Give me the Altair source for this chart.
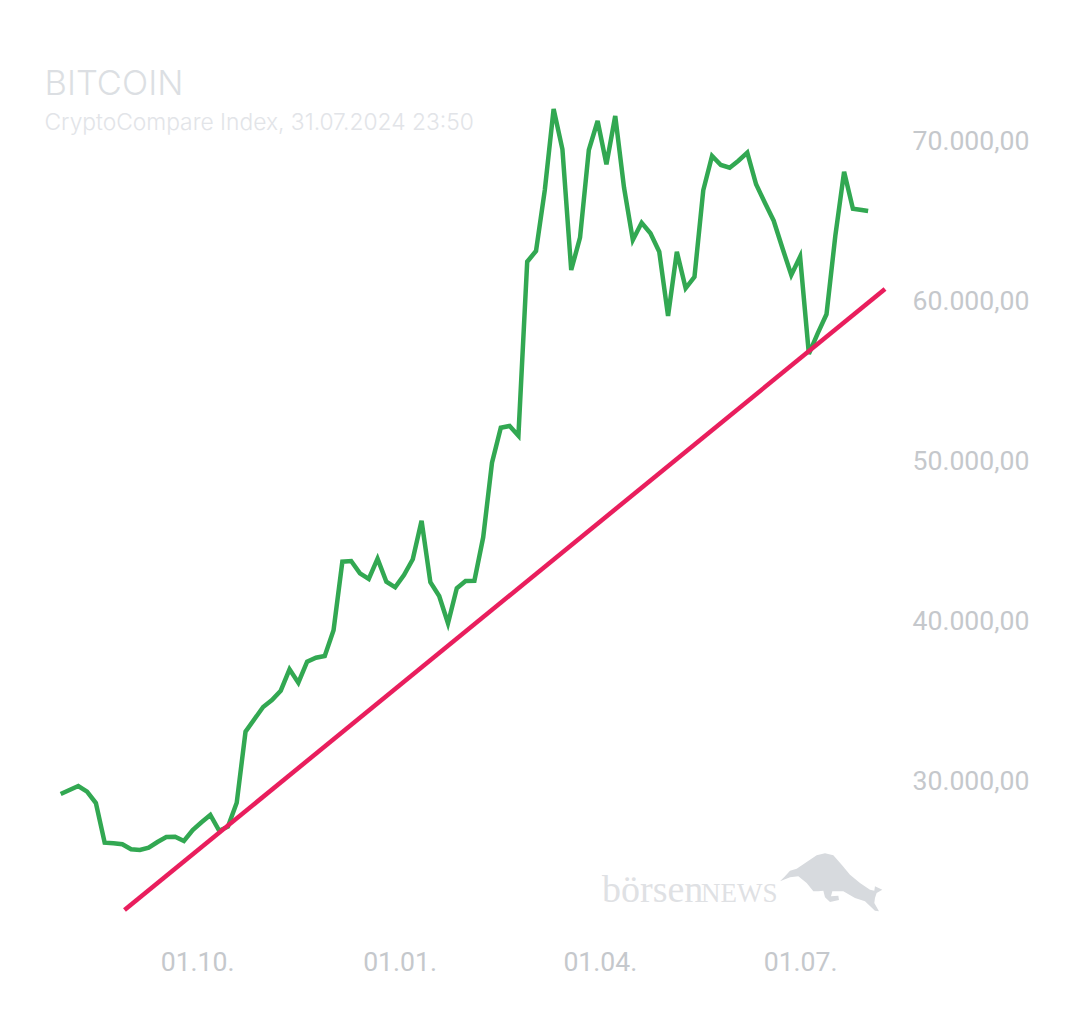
import altair as alt
import pandas as pd

# 4 day closes, last one is 31.07.
start = pd.Timestamp("2023-07-31")
prices = [
    29188, 29438, 29688, 29331, 28625, 26144, 26106, 26044, 25731, 25688,
    25831, 26188, 26500, 26519, 26250, 26938, 27419, 27875, 26894, 27144,
    28644, 33081, 33856, 34625, 35062, 35644, 36981, 36144, 37456, 37706,
    37812, 39419, 43706, 43750, 42981, 42625, 43894, 42456, 42106, 42875,
    43856, 46269, 42419, 41562, 39856, 42044, 42500, 42519, 45231, 49894,
    52081, 52188, 51581, 62456, 63125, 66938, 72000, 69481, 61938, 63956,
    69438, 71250, 68544, 71562, 67081, 63812, 64894, 64231, 63081, 59062,
    63081, 60794, 61500, 66919, 69062, 68500, 68331, 68769, 69269, 67294,
    66144, 65019, 63294, 61625, 62769, 56688, 57981, 59169, 64062, 68081,
    65769, 65688,
]
dates = [start + pd.Timedelta(days=4 * i) for i in range(len(prices))]
prices.append(65625)
dates.append(pd.Timestamp("2024-07-31T22:00:00"))

trend_dates = ["2023-08-29T00:00:00", "2024-08-08T14:00:00"]
trend_values = [21938, 60750]

y_ticks = [30000, 40000, 50000, 60000, 70000]
x_ticks = [
    alt.DateTime(year=2023, month=10, date=1),
    alt.DateTime(year=2024, month=1, date=1),
    alt.DateTime(year=2024, month=4, date=1),
    alt.DateTime(year=2024, month=7, date=1),
]

# bull silhouette of the logo
bull = [
    (15, 100), (30, 85), (45, 68), (65, 62), (95, 42), (125, 22), (150, 16), (175, 22),
    (200, 50), (225, 80), (255, 105), (285, 125), (298, 128), (300, 115), (322, 125),
    (305, 135), (300, 150), (298, 165), (312, 190), (300, 188), (270, 160), (240, 150),
    (205, 130), (172, 130), (168, 145), (190, 143), (192, 156), (165, 162), (150, 148),
    (145, 128), (130, 130), (115, 130), (95, 105), (70, 85), (45, 88),
]
bull_path = "M" + " L".join("{},{}".format(x - 165, y - 105) for x, y in bull) + " Z"

LABEL_COLOR = "#c5c8cc"
LOGO_COLOR = "#d7dade"
LOGO_TEXT_COLOR = "#dfe1e4"

df = pd.DataFrame({"date": dates, "price": prices})
trend_df = pd.DataFrame({"date": pd.to_datetime(trend_dates), "price": trend_values})

xscale = alt.Scale(domain=["2023-07-24T08:00:00", "2024-08-08T14:00:00"], nice=False)
yscale = alt.Scale(domain=[20687.5, 72562.5], nice=False)

line = alt.Chart(df).mark_line(color="#32a852", strokeWidth=4.5, strokeJoin="miter").encode(
    alt.X(
        "date:T",
        scale=xscale,
        title=None,
        axis=alt.Axis(
            values=x_ticks, format="%d.%m.", grid=False, domain=False, ticks=False,
            labelFont="Roboto", labelFontSize=26.6, labelColor=LABEL_COLOR,
            labelPadding=19, labelOverlap=False, labelFlush=False,
        ),
    ),
    alt.Y(
        "price:Q",
        scale=yscale,
        title=None,
        axis=alt.Axis(
            orient="right", values=y_ticks,
            labelExpr="floor(datum.value / 1000) + '.000,00'",
            grid=False, domain=False, ticks=False,
            labelFont="Roboto", labelFontSize=26.6, labelColor=LABEL_COLOR,
            labelPadding=27, labelAlign="left",
        ),
    ),
)

trend = alt.Chart(trend_df).mark_line(color="#e91e5d", strokeWidth=4.5, strokeCap="butt").encode(
    x="date:T",
    y="price:Q",
)

logo_small = alt.Chart(pd.DataFrame({"t": ["börsen"]})).mark_text(
    font="Liberation Serif", fontSize=38, color=LOGO_TEXT_COLOR, align="left", baseline="alphabetic"
).encode(x=alt.value(556), y=alt.value(802), text="t:N")

logo_news = alt.Chart(pd.DataFrame({"t": ["NEWS"]})).mark_text(
    font="Liberation Serif", fontSize=27, color=LOGO_TEXT_COLOR, align="left", baseline="alphabetic"
).encode(x=alt.value(655), y=alt.value(802), text="t:N")

logo_bull = alt.Chart(pd.DataFrame({"t": ["bull"]})).mark_point(
    shape=bull_path, size=0.444, filled=True, fill=LOGO_COLOR, opacity=1, strokeWidth=0
).encode(x=alt.value(784), y=alt.value(783))

chart = alt.layer(line, trend, logo_small, logo_news, logo_bull).properties(
    width=839,
    height=830,
    padding={"left": 36, "top": 58, "right": 0, "bottom": 0},
    title=alt.TitleParams(
        "BITCOIN",
        subtitle="CryptoCompare Index, 31.07.2024 23:50",
        anchor="start",
        font="Inter",
        fontSize=34.5,
        fontWeight=300,
        color="#dcdfe3",
        subtitleFont="Inter",
        subtitleFontSize=22.8,
        subtitleFontWeight=300,
        subtitleColor="#e2e4e8",
        subtitlePadding=10,
        offset=-36,
        dx=-1.5,
    ),
).configure_view(stroke=None)

chart.save("out.html", embed_options={"renderer": "svg", "actions": False})
